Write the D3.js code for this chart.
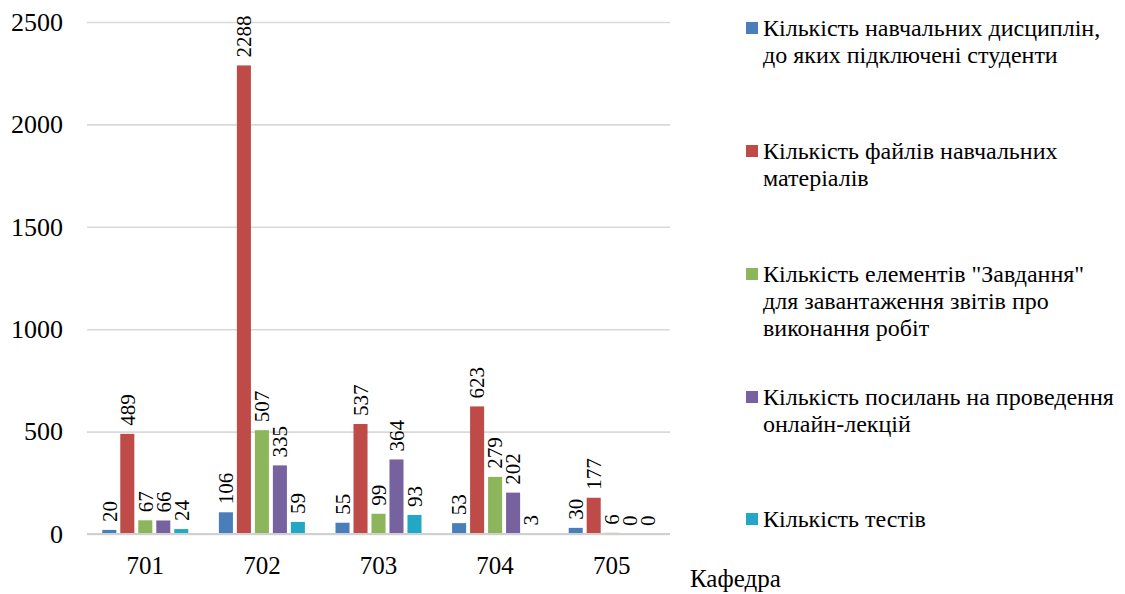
<!DOCTYPE html>
<html><head><meta charset="utf-8">
<script src="https://cdn.jsdelivr.net/npm/d3@7"></script>
</head><body>
<script>
const categories = ["701","702","703","704","705"];
const seriesNames = [
  ["Кількість навчальних дисциплін,","до яких підключені студенти"],
  ["Кількість файлів навчальних","матеріалів"],
  ["Кількість елементів \"Завдання\"","для завантаження звітів про","виконання робіт"],
  ["Кількість посилань на проведення","онлайн-лекцій"],
  ["Кількість тестів"]
];
const disciplines = [20, 106, 55, 53, 30];
const files = [489, 2288, 537, 623, 177];
const tasks = [67, 507, 99, 279, 6];
const lectures = [66, 335, 364, 202, 0];
const tests = [24, 59, 93, 3, 0];
const yTicks = [0, 500, 1000, 1500, 2000, 2500];
const colors = ["#4a7ebb","#be4b48","#8db55c","#7762a0","#22a8c5"];
const axisTitle = "Кафедра";

const FONT = "'Liberation Serif', monospace";
const seriesValues = [disciplines, files, tasks, lectures, tests];
const W = 1125, H = 594;
d3.select("body").style("margin", "0");
const svg = d3.select("body").append("svg").attr("width", W).attr("height", H);
const pLeft = 87, pRight = 670, pTop = 22, pBottom = 534;

const y = d3.scaleLinear().domain([0, 2500]).range([pBottom, pTop]);
const x0 = d3.scaleBand().domain(categories).range([pLeft, pRight]).padding(0);
const x1 = d3.scaleBand().domain(d3.range(5)).range([0, x0.bandwidth()]).paddingInner(0.22).paddingOuter(0.85);

// gridlines (axis generator, font attributes stripped)
const grid = svg.append("g").attr("transform", `translate(${pLeft},0)`)
  .call(d3.axisLeft(y).tickValues(yTicks).tickSize(-(pRight-pLeft)).tickFormat(""));
grid.attr("font-family", null).attr("font-size", null);
grid.select(".domain").remove();
grid.selectAll("text").remove();
grid.selectAll("line").attr("stroke", "#d9d9d9").attr("stroke-width", 1.6);

// bars
const groups = svg.append("g").selectAll("g").data(categories).join("g")
  .attr("transform", d => `translate(${x0(d)},0)`);
groups.selectAll("rect").data((c, i) => seriesValues.map((s, k) => ({k, v: s[i]})))
  .join("rect")
  .attr("x", d => x1(d.k)).attr("width", x1.bandwidth())
  .attr("y", d => y(d.v)).attr("height", d => y(0) - y(d.v))
  .attr("fill", d => colors[d.k]);

// zero axis line
svg.append("line").attr("x1", pLeft).attr("x2", pRight).attr("y1", y(0)).attr("y2", y(0))
  .attr("stroke", "#d0d0d0").attr("stroke-width", 2.2);

// y tick labels placed with the scale
svg.append("g").selectAll("text").data(yTicks).join("text")
  .attr("x", pLeft - 24).attr("y", d => y(d))
  .attr("text-anchor", "end").attr("dy", "0.34em")
  .style("font-family", FONT).style("font-size", "26px")
  .text(d => String(d));

// data labels
groups.selectAll("text.lbl").data((c, i) => seriesValues.map((s, k) => ({k, v: s[i]})))
  .join("text").attr("class", "lbl")
  .attr("transform", d => `translate(${x1(d.k) + x1.bandwidth()/2},${y(d.v) - 8}) rotate(-90)`)
  .attr("dy", "0.35em")
  .style("font-family", FONT).style("font-size", "21px")
  .text(d => d.v);

// x category labels placed with the band scale
svg.append("g").selectAll("text").data(categories).join("text")
  .attr("x", d => x0(d) + x0.bandwidth()/2).attr("y", pBottom + 40)
  .attr("text-anchor", "middle")
  .style("font-family", FONT).style("font-size", "25px")
  .text(d => d);

svg.append("text").attr("x", 690).attr("y", 587)
  .style("font-family", FONT).style("font-size", "25px").text(axisTitle);

// legend
const legY = [36, 159, 282, 405, 527];
const leg = svg.append("g").selectAll("g").data(seriesNames).join("g")
  .attr("transform", (d, i) => `translate(746,${legY[i]})`);
leg.append("rect").attr("x", 0).attr("y", -14).attr("width", 12).attr("height", 12)
  .attr("fill", (d, i) => colors[i]);
leg.append("text").attr("x", 17).attr("y", 0)
  .style("font-family", FONT).style("font-size", "24px")
  .selectAll("tspan").data(d => d).join("tspan")
  .attr("x", 17).attr("dy", (d, j) => j === 0 ? 0 : 27)
  .text(d => d);
</script>
</body></html>
